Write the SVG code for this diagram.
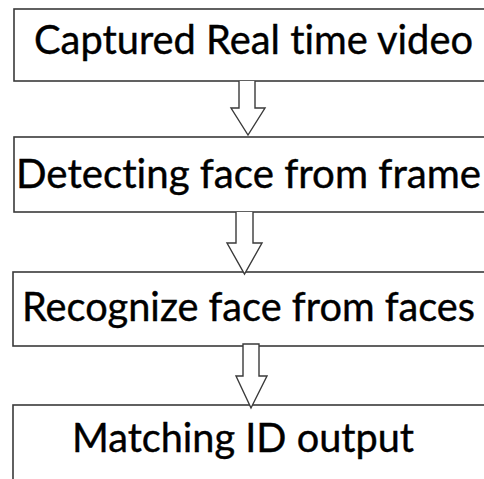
<svg xmlns="http://www.w3.org/2000/svg" width="484" height="479" viewBox="0 0 484 479">
<style>
.box{fill:#fff;stroke:#3a3a3a;stroke-width:1.6}
.arr{fill:#fff;stroke:#3a3a3a;stroke-width:1.4;stroke-linejoin:miter}
.t{font-family:Lato,"Open Sans","Liberation Sans",sans-serif;font-size:40px;fill:#000;font-variant-ligatures:none;stroke:#000;stroke-width:0.4}
</style>
<rect width="484" height="479" fill="#fff"/>
<g id="node1"><rect class="box" x="14" y="9" width="480" height="72"/><text class="t" x="34" y="54" textLength="439" lengthAdjust="spacingAndGlyphs">Captured Real time video</text></g>
<g id="node2"><rect class="box" x="14" y="137" width="480" height="75"/><text class="t" x="16" y="188" textLength="465" lengthAdjust="spacingAndGlyphs">Detecting face from frame</text></g>
<g id="node3"><rect class="box" x="13" y="272" width="480" height="74"/><text class="t" x="22" y="321" textLength="453" lengthAdjust="spacingAndGlyphs">Recognize face from faces</text></g>
<g id="node4"><rect class="box" x="13" y="405" width="480" height="90"/><text class="t" x="72" y="452" textLength="342" lengthAdjust="spacingAndGlyphs">Matching ID output</text></g>
<g id="connectors">
<path class="arr" d="M239,81 V108 H231 L248,135 L265,108 H255 V81"/>
<path class="arr" d="M236,212 V243 H227 L244.5,274 L262,243 H253 V212"/>
<path class="arr" d="M243,344 V376 H236 L251,408 L267,376 H259 V344 Z"/>
</g>
</svg>
